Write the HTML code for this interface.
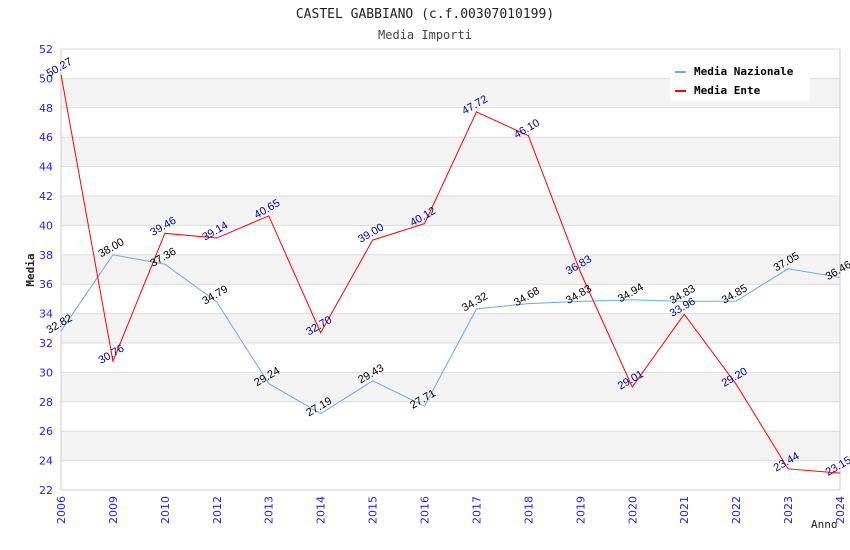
<!DOCTYPE html>
<html><head><meta charset="utf-8"><style>
body{margin:0;background:#fff;}
svg{display:block;font-family:"DejaVu Sans Mono","Liberation Mono",monospace;}
</style></head><body>
<svg id="c" width="850" height="550">
<text x="425" y="18" text-anchor="middle" font-size="13" fill="#222">CASTEL GABBIANO (c.f.00307010199)</text>
<text x="425" y="39" text-anchor="middle" font-size="12" fill="#444">Media Importi</text>
<g id="bands"></g><g id="grid"></g><g id="axes"></g><g id="series"></g><g id="labels"></g>
<text x="34" y="270" text-anchor="middle" font-size="11" font-weight="bold" fill="#222" transform="rotate(-90 34 270)">Media</text>
<text x="811" y="528" font-size="11" fill="#222">Anno</text>
<g>
<rect x="670" y="60" width="140" height="41" fill="#fff"/>
<rect x="675" y="71" width="11" height="2" fill="#6aaaee"/>
<text x="694" y="75" font-size="11" font-weight="bold" fill="#000">Media Nazionale</text>
<rect x="675" y="90" width="11" height="2" fill="#f00"/>
<text x="694" y="94" font-size="11" font-weight="bold" fill="#000">Media Ente</text>
</g>
</svg>
<script>
const categories=["2006","2009","2010","2012","2013","2014","2015","2016","2017","2018","2019","2020","2021","2022","2023","2024"];
const nazionale=[32.82,38.00,37.36,34.79,29.24,27.19,29.43,27.71,34.32,34.68,34.83,34.94,34.83,34.85,37.05,36.46];
const ente=[50.27,30.76,39.46,39.14,40.65,32.70,39.00,40.12,47.72,46.10,36.83,29.01,33.96,29.20,23.44,23.15];
const yTicks=[22,24,26,28,30,32,34,36,38,40,42,44,46,48,50,52];
const L=61,R=840,T=49,B=490,ymin=22,ymax=52;
const NS="http://www.w3.org/2000/svg";
const xs=i=>L+i*(R-L)/(categories.length-1);
const ys=v=>B-(v-ymin)/(ymax-ymin)*(B-T);
function mk(t,a,p){const e=document.createElementNS(NS,t);for(const k in a)e.setAttribute(k,a[k]);p.appendChild(e);return e;}
const bands=document.getElementById('bands'),grid=document.getElementById('grid'),axes=document.getElementById('axes'),series=document.getElementById('series'),labels=document.getElementById('labels');
for(let i=0;i<yTicks.length-1;i++){
  if(i%2===1){const r=mk('rect',{x:L,y:ys(yTicks[i+1]),width:R-L,height:ys(yTicks[i])-ys(yTicks[i+1]),fill:'#f3f3f3'},bands);
  
  }
}
yTicks.forEach(v=>{
  const l=mk('line',{x1:L,x2:R,y1:ys(v),y2:ys(v),stroke:'#ddd'},grid);
  
  
  const t=mk('text',{x:L-8,y:ys(v)+4,'text-anchor':'end','font-family':'DejaVu Sans, sans-serif','font-size':11,fill:'#22e'},axes);
  t.textContent=v;
  
  
});
const ax=mk('path',{d:`M${L},${T}V${B}H${R}V${T}`,fill:'none',stroke:'#ccc'},axes);


categories.forEach((c,i)=>{
  const x=xs(i),y=B+6;
  const t=mk('text',{x:x+4,y:y,'text-anchor':'end','font-family':'DejaVu Sans, sans-serif','font-size':11,fill:'#22e',transform:`rotate(-90 ${x+4} ${y})`},axes);
  t.textContent=c;
  
  
});
function draw(data,color,lc,name){
  const p=mk('polyline',{points:data.map((v,i)=>xs(i)+','+ys(v)).join(' '),fill:'none',stroke:color,'stroke-width':1},series);
  
  
  data.forEach((v,i)=>{
    const x=xs(i),y=ys(v)-4;
    const t=mk('text',{x:x,y:y,'text-anchor':'middle','font-family':'Liberation Sans, sans-serif','font-size':11,fill:lc,transform:`rotate(-30 ${x} ${y})`},labels);
    t.textContent=v.toFixed(2);
    
    
  });
}
draw(nazionale,'#6aaaee','#000','nazionale');
draw(ente,'#f00','#008','ente');
</script>
</body></html>
